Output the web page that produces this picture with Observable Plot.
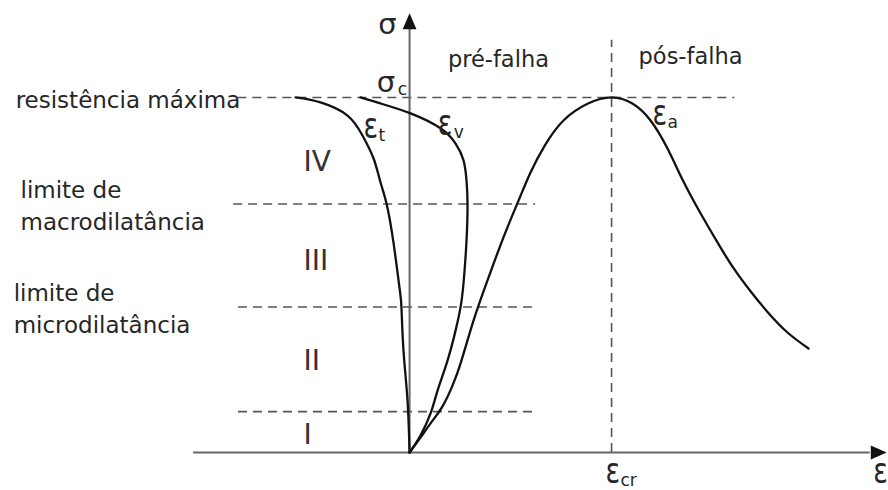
<!DOCTYPE html>
<html>
<head>
<meta charset="utf-8">
<script src="https://cdn.jsdelivr.net/npm/d3@7"></script>
<script src="https://cdn.jsdelivr.net/npm/@observablehq/plot@0.6"></script>
<style>
  body { margin: 0; background: #fff; }
  #chart svg { display: block; }
</style>
</head>
<body>
<div id="chart"></div>
<script>
// Strain ε is expressed in units of the critical strain εcr,
// stress σ in units of the peak strength σc.

// Lateral strain ε_t  [ε, σ]
const lateralStrain = [
  [-0.564, 1.000], [-0.441, 0.986], [-0.307, 0.949], [-0.233, 0.893],
  [-0.178, 0.828], [-0.144, 0.761], [-0.114, 0.701], [-0.079, 0.589],
  [-0.050, 0.465], [-0.040, 0.408], [-0.030, 0.287], [-0.010, 0.146],
  [0.000, 0.000]
];

// Volumetric strain ε_v  [ε, σ]
const volumetricStrain = [
  [-0.243, 1.000], [-0.144, 0.983], [0.005, 0.955], [0.153, 0.913],
  [0.228, 0.870], [0.267, 0.823], [0.282, 0.766], [0.287, 0.701],
  [0.282, 0.597], [0.267, 0.476], [0.252, 0.408], [0.228, 0.344],
  [0.188, 0.259], [0.139, 0.175], [0.104, 0.110], [0.054, 0.048],
  [0.000, 0.000]
];

// Axial strain ε_a  [ε, σ]
const axialStrain = [
  [0.000, 0.000], [0.054, 0.042], [0.104, 0.082], [0.163, 0.130],
  [0.213, 0.189], [0.257, 0.259], [0.317, 0.372], [0.386, 0.485],
  [0.465, 0.606], [0.540, 0.710], [0.600, 0.790], [0.670, 0.865],
  [0.762, 0.935], [0.881, 0.982], [1.000, 1.000], [1.105, 0.982],
  [1.193, 0.935], [1.277, 0.856], [1.356, 0.763], [1.441, 0.673],
  [1.525, 0.591], [1.604, 0.519], [1.688, 0.454], [1.772, 0.396],
  [1.871, 0.338], [1.975, 0.293]
];

// Stress thresholds (dashed guides) and their names
const levelSigma = [1.0, 0.70, 0.41, 0.115];
const levelLabels = ["resistência máxima", "limite de\nmacrodilatância", "limite de\nmicrodilatância", ""];
const levelLabelEps = [-1.950, -1.926, -1.960, null];
const levelFrom = [-0.85, -0.871, -0.847, -0.847];
const levelTo = [1.61, 0.624, 0.624, 0.624];

// Critical strain (peak) marker
const criticalStrain = 1.0;
const criticalSigmaTop = 1.161;

// Crack-development stages
const stageNames = ["I", "II", "III", "IV"];
const stageSigma = [0.048, 0.259, 0.538, 0.817];
const stageEps = -0.525;

// Pre- and post-failure regions
const phaseNames = ["pré-falha", "pós-falha"];
const phaseEps = [0.44, 1.391];
const phaseSigma = [1.085, 1.095];

// Symbol labels: base glyph, subscript, anchor
const symbolBase = ["ε", "ε", "ε", "ε", "ε", "σ", "σ"];
const symbolSub  = ["t", "v", "a", "cr", "", "c", ""];
const symbolEps  = [-0.228, 0.139, 1.203, 0.970, 2.295, -0.163, -0.155];
const symbolSigma = [0.885, 0.893, 0.921, -0.085, -0.085, 1.014, 1.180];
const symbolSubDx = [15, 16, 15, 15, 0, 21, 0];

// Axis extents
const epsAxis = [-1.069, 2.28];
const sigmaAxis = [0, 1.192];
const arrowTips = [
  {eps: 0, sigma: 1.214, angle: 0},
  {eps: 2.322, sigma: 0, angle: 90}
];

const levels = levelSigma.map((s, i) => ({
  sigma: s, label: levelLabels[i], labelEps: levelLabelEps[i], from: levelFrom[i], to: levelTo[i]
}));
const stages = stageNames.map((n, i) => ({name: n, sigma: stageSigma[i], eps: stageEps}));
const phases = phaseNames.map((n, i) => ({name: n, eps: phaseEps[i], sigma: phaseSigma[i]}));
const symbols = symbolBase.map((b, i) => ({
  base: b, sub: symbolSub[i], eps: symbolEps[i], sigma: symbolSigma[i], subDx: symbolSubDx[i]
}));

// Filled arrowhead pointing up (rotated for the strain axis)
const arrowHead = {
  draw(context, size) {
    const r = Math.sqrt(size / Math.PI);
    context.moveTo(0, -1.35 * r);
    context.lineTo(1.15 * r, 1.3 * r);
    context.lineTo(-1.15 * r, 1.3 * r);
    context.closePath();
  }
};

const ink = "#111";
const textInk = "#262626";
const dash = {stroke: "#555", strokeWidth: 1.6, strokeDasharray: "9,6"};
const curve = {x: d => d[0], y: d => d[1], curve: "natural", stroke: ink, strokeWidth: 2.3};

const chart = Plot.plot({
  width: 888,
  height: 490,
  margin: 0,
  x: {domain: [-2.025, 2.371], axis: null},
  y: {domain: [-0.107, 1.273], axis: null},
  style: {fontFamily: "DejaVu Sans, sans-serif", background: "#fff"},
  marks: [
    // dashed stress thresholds
    Plot.ruleY(levels, {y: "sigma", x1: "from", x2: "to", ...dash}),
    // dashed critical strain
    Plot.ruleX([criticalStrain], {x: d => d, y1: 0, y2: criticalSigmaTop, ...dash}),
    // axes
    Plot.ruleY([0], {y: d => d, x1: epsAxis[0], x2: epsAxis[1], stroke: "#666", strokeWidth: 2}),
    Plot.ruleX([0], {x: d => d, y1: sigmaAxis[0], y2: sigmaAxis[1], stroke: "#666", strokeWidth: 2}),
    Plot.dot(arrowTips, {x: "eps", y: "sigma", rotate: "angle", symbol: arrowHead, r: 6, fill: ink, stroke: null}),
    // strain curves
    Plot.line(lateralStrain, curve),
    Plot.line(volumetricStrain, curve),
    Plot.line(axialStrain, curve),
    // threshold names
    Plot.text(levels.filter(d => d.label), {
      x: "labelEps", y: "sigma", text: "label", textAnchor: "start", lineAnchor: "middle",
      lineHeight: 1.4, fontSize: 23, fill: textInk
    }),
    // stage numerals
    Plot.text(stages, {x: "eps", y: "sigma", text: "name", textAnchor: "start", lineAnchor: "middle", fontSize: 28, fill: "#333"}),
    // phases
    Plot.text(phases, {x: "eps", y: "sigma", text: "name", textAnchor: "middle", lineAnchor: "bottom", fontSize: 22.5, fill: textInk}),
    // symbols and subscripts
    Plot.text(symbols.filter(d => d.base === "ε"), {x: "eps", y: "sigma", text: "base", textAnchor: "start", lineAnchor: "bottom", fontSize: 27, fill: textInk}),
    Plot.text(symbols.filter(d => d.base === "σ"), {x: "eps", y: "sigma", text: "base", textAnchor: "start", lineAnchor: "bottom", fontSize: 29, fill: textInk}),
    Plot.text(symbols.filter(d => d.sub), {
      x: "eps", y: "sigma", text: "sub", textAnchor: "start", lineAnchor: "bottom",
      fontSize: 17, fill: textInk, dy: 3
    })
  ]
});

document.getElementById("chart").appendChild(chart);

// give ε its tall form
d3.select(chart).selectAll("text").each(function () {
  if (this.textContent === "ε") {
    this.setAttribute("transform", (this.getAttribute("transform") || "") + " scale(1,1.32)");
  }
});
// shift subscripts right of their base glyphs
const subs = symbols.filter(d => d.sub);
d3.select(chart).selectAll("g[aria-label='text']").filter((d, i, nodes) => i === nodes.length - 1)
  .selectAll("text").each(function (d, i) {
    const tr = this.getAttribute("transform") || "";
    this.setAttribute("transform", tr + ` translate(${subs[i].subDx},0)`);
  });
</script>
</body>
</html>
